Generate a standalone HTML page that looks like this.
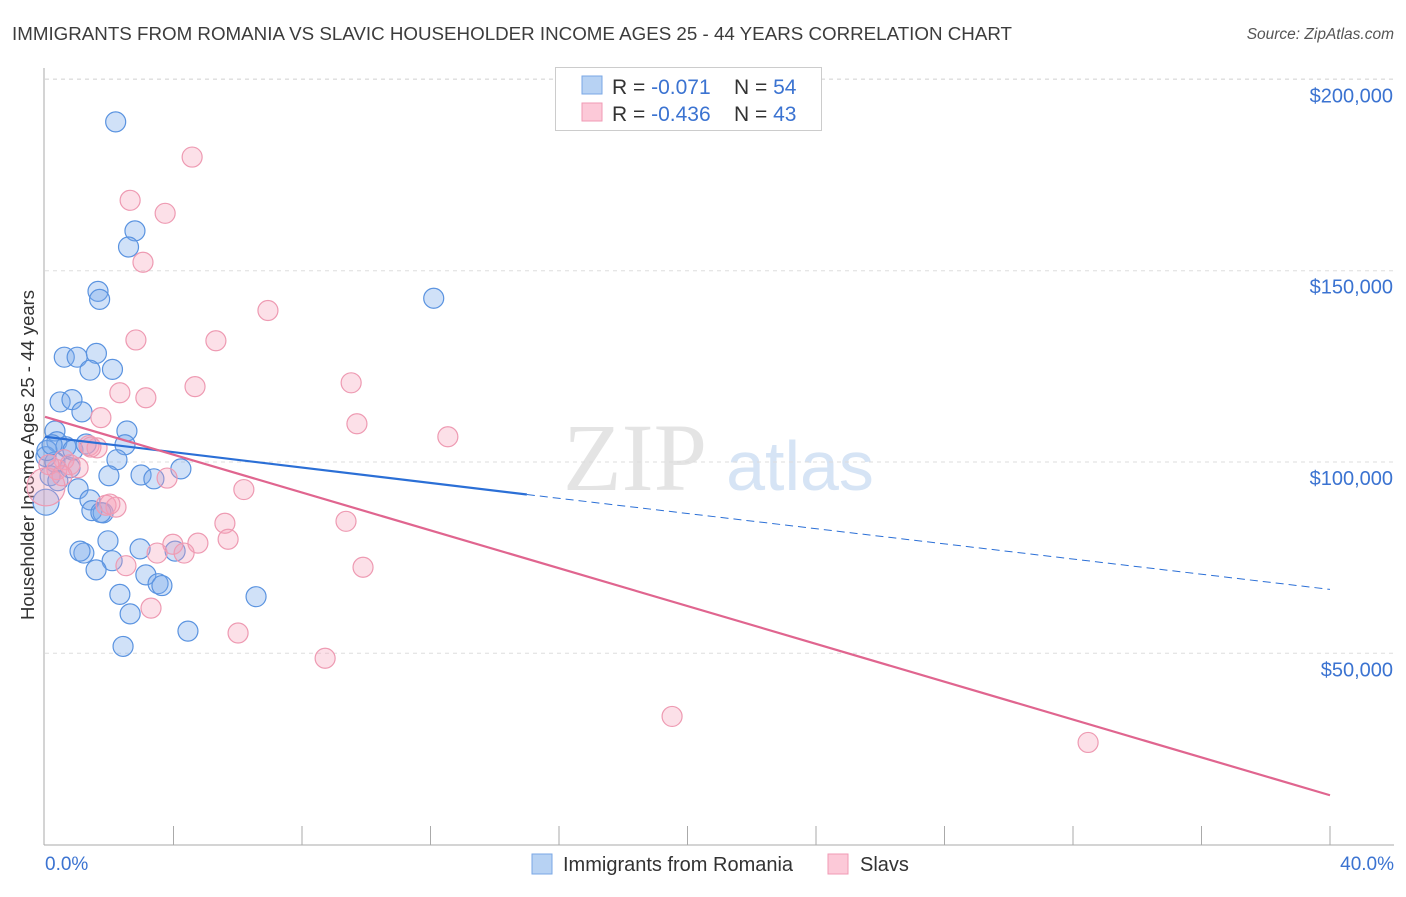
<!DOCTYPE html>
<html><head><meta charset="utf-8"><style>
body{margin:0;background:#fff;font-family:"Liberation Sans",sans-serif;}
</style></head><body>
<svg id="chart" width="1406" height="892" xmlns="http://www.w3.org/2000/svg">
<text x="12" y="40" font-size="18.5" textLength="1000" lengthAdjust="spacingAndGlyphs" fill="#3c3c3c">IMMIGRANTS FROM ROMANIA VS SLAVIC HOUSEHOLDER INCOME AGES 25 - 44 YEARS CORRELATION CHART</text>
<text x="1394" y="39" font-size="15.5" fill="#555" text-anchor="end" font-style="italic">Source: ZipAtlas.com</text>
<text x="635" y="490" font-size="96" fill="#e4e4e4" font-family="Liberation Serif,serif" text-anchor="middle">ZIP</text>
<text x="800" y="490" font-size="70" fill="#d6e4f5" text-anchor="middle">atlas</text>
<g id="grid"></g>
<line x1="44" y1="68" x2="44" y2="845" stroke="#aaa"/>
<line x1="44" y1="845" x2="1394" y2="845" stroke="#aaa"/>
<g id="ticks"></g>
<text transform="translate(34,455) rotate(-90)" font-size="18.5" fill="#333" text-anchor="middle">Householder Income Ages 25 - 44 years</text>
<text x="45" y="870" font-size="19" fill="#3b73d1">0.0%</text>
<text x="1394" y="870" font-size="19" fill="#3b73d1" text-anchor="end">40.0%</text>
<g id="pts"></g>
<g id="lines"></g>
<g>
<rect x="555.5" y="67.5" width="266" height="63" fill="#fff" stroke="#ccc"/>
<rect x="582" y="76" width="20" height="18" fill="#b7d2f3" stroke="#7aa7e6"/>
<rect x="582" y="103" width="20" height="18" fill="#fcc9d8" stroke="#f09ab4"/>
<text x="612" y="94" font-size="21" fill="#333">R = <tspan fill="#3b73d1"> -0.071</tspan><tspan x="734">N = </tspan><tspan fill="#3b73d1">54</tspan></text>
<text x="612" y="121" font-size="21" fill="#333">R = <tspan fill="#3b73d1">-0.436</tspan><tspan x="734">N = </tspan><tspan fill="#3b73d1">43</tspan></text>
</g>
<g>
<rect x="532" y="854" width="20" height="20" fill="#b7d2f3" stroke="#7aa7e6"/>
<text x="563" y="871" font-size="20" fill="#333">Immigrants from Romania</text>
<rect x="828" y="854" width="20" height="20" fill="#fcc9d8" stroke="#f09ab4"/>
<text x="860" y="871" font-size="20" fill="#333">Slavs</text>
</g>
</svg>
<script>
const yTicks=[50000,100000,150000,200000];
const yTickLabels=["$50,000","$100,000","$150,000","$200,000"];
const blueX=[2.2,2.8,2.6,1.65,1.7,12.1,0.6,1.0,1.6,1.4,2.1,0.47,0.84,1.15,0.31,2.55,0.37,0.65,0.87,1.28,2.49,2.24,0.03,0.31,0.78,0.16,0.40,1.99,2.99,3.39,4.23,1.03,1.40,1.46,1.81,1.96,1.21,2.09,2.96,1.59,3.14,3.52,3.64,2.33,6.57,2.65,4.45,2.43,0.03,0.06,0.22,1.74,1.09,4.05];
const blueY=[188.9,160.4,156.2,144.6,142.5,142.8,127.4,127.4,128.4,124,124.2,115.7,116.3,113.1,108.1,108.1,105.3,104,103.1,104.7,104.5,100.6,101.4,100,98.5,96.4,95.1,96.4,96.6,95.6,98.2,93,90.1,87.3,86.7,79.4,76.2,74.2,77.3,71.8,70.5,68.2,67.7,65.4,64.8,60.3,55.8,51.8,89.5,103,104.5,86.8,76.7,76.7];
const pinkX=[4.58,2.65,3.74,3.05,6.94,2.83,5.32,4.67,9.53,2.33,3.14,9.71,1.74,12.54,1.37,1.62,0.59,0.78,1.03,0.37,0.03,3.80,6.19,1.90,2.21,5.60,9.37,5.70,4.76,3.98,3.49,4.33,2.52,9.90,3.30,6.01,8.72,19.52,32.47,0.12,0.53,2.02,1.43];
const pinkY=[179.7,168.4,165,152.2,139.6,131.9,131.7,119.7,120.7,118.1,116.8,110,111.6,106.6,104.3,103.7,100.6,99.3,98.5,98,93.5,95.8,92.8,88.7,88.2,84,84.5,79.8,78.8,78.5,76.2,76.2,72.9,72.5,61.8,55.3,48.7,33.5,26.7,99.3,96.4,89,103.9];
const blueTrend=[[0,106.6],[15,91.5],[40,66.7]];
const pinkTrend=[[0,111.8],[40,12.9]];
const sx=v=>45+v*32.125, sy=v=>844.6-v*3.826;
const NS="http://www.w3.org/2000/svg";
function mk(t,a,p){const e=document.createElementNS(NS,t);for(const k in a)e.setAttribute(k,a[k]);document.getElementById(p).appendChild(e);return e;}
yTicks.forEach((v,i)=>{
 const y=sy(v/1000);
 const g=mk('line',{x1:45,x2:1394,y1:y,y2:y,stroke:'#ddd','stroke-dasharray':'4,4'},'grid');
 
 
 const t=mk('text',{x:1393,y:y+23,'font-size':20,fill:'#3b73d1','text-anchor':'end'},'grid');
 t.textContent=yTickLabels[i];
 
 
});
const tg=mk('line',{x1:45,x2:1394,y1:79,y2:79,stroke:'#ddd','stroke-dasharray':'4,4'},'grid');


for(let i=1;i<=10;i++){
 const x=sx(i*4);
 const l=mk('line',{x1:x,x2:x,y1:826,y2:845,stroke:'#aaa'},'ticks');
 
 
}
blueX.forEach((v,i)=>{
 const c=mk('circle',{cx:sx(v),cy:sy(blueY[i]),r:i==48?13:10,fill:'rgba(120,170,235,0.35)',stroke:'#5a93e0','stroke-width':1.2},'pts');
 
 
});
pinkX.forEach((v,i)=>{
 const c=mk('circle',{cx:sx(v),cy:sy(pinkY[i]),r:i==20?19:10,fill:'rgba(245,160,185,0.33)',stroke:'#ee9ab2','stroke-width':1.2},'pts');
 
 
});
const b1=mk('line',{x1:sx(blueTrend[0][0]),y1:sy(blueTrend[0][1]),x2:sx(blueTrend[1][0]),y2:sy(blueTrend[1][1]),stroke:'#2b6fd6','stroke-width':2.2},'lines');


const b2=mk('line',{x1:sx(blueTrend[1][0]),y1:sy(blueTrend[1][1]),x2:sx(blueTrend[2][0]),y2:sy(blueTrend[2][1]),stroke:'#2b6fd6','stroke-width':1,'stroke-dasharray':'8,5'},'lines');


const p1=mk('line',{x1:sx(pinkTrend[0][0]),y1:sy(pinkTrend[0][1]),x2:sx(pinkTrend[1][0]),y2:sy(pinkTrend[1][1]),stroke:'#e0658f','stroke-width':2.2},'lines');


</script>
</body></html>
